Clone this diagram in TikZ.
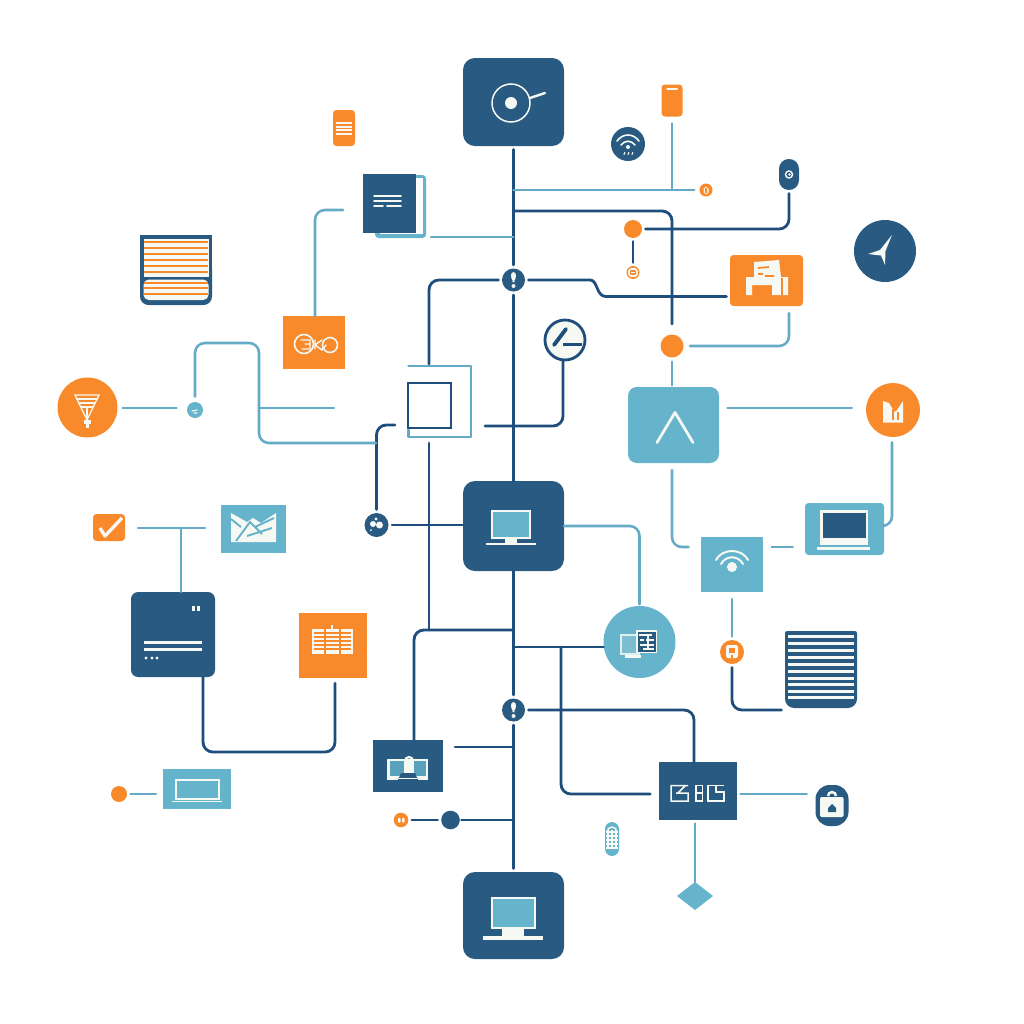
\documentclass[tikz,border=0pt]{standalone}
\usetikzlibrary{shapes.geometric}
\definecolor{navy}{HTML}{285A82}
\definecolor{navyln}{HTML}{1F4E7C}
\definecolor{teal2}{HTML}{66B3CC}
\definecolor{tealln}{HTML}{65ABC5}
\definecolor{orng}{HTML}{F98A2B}
\definecolor{cream}{HTML}{F6F8F3}
\tikzset{
  x=0.01cm,y=-0.01cm,
  wh/.style 2 args={minimum width=#1*0.01cm,minimum height=#2*0.01cm,inner sep=0pt,outer sep=0pt},
  boxn/.style={rectangle,fill=navy},
  boxt/.style={rectangle,fill=teal2},
  boxo/.style={rectangle,fill=orng},
  rbox/.style={rounded corners=3.4pt},
  rs/.style={rounded corners=1pt},
  dot/.style={circle,minimum size=2*#1*0.01cm,inner sep=0pt,outer sep=0pt},
  nl/.style={draw=navyln,line width=0.8pt,line cap=round},
  tl/.style={draw=tealln,line width=0.72pt,line cap=round},
  rc/.style={rounded corners=2.8pt},
  gap/.style={shorten <=1pt,shorten >=1pt},
  wl/.style={draw=cream,line width=#1*0.2845pt,line cap=round},
  wl/.default=2,
}
\begin{document}
\begin{tikzpicture}
\fill[white] (0,0) rectangle (1024,1024);
\useasboundingbox (0,0) rectangle (1024,1024);

% ---------- main nodes
\node[boxn,rbox,wh={101}{88}] (top) at (513.5,102) {};
\node[boxn,rbox,wh={101}{90}] (mid) at (513.5,526) {};
\node[boxn,rbox,wh={101}{87}] (bot) at (513.5,915.5) {};
\node[boxo,rs,wh={21}{32}] (phoneR) at (672,100.5) {};
\node[boxo,rs,wh={22}{36}] (phoneL) at (344,128) {};
\node[dot=17,fill=navy] (wifiC) at (628,144) {};
\node[dot=6.5,fill=orng] (o706) at (706,190) {};
\node[boxn,rounded corners=2.8pt,wh={20}{31}] (pill) at (789,174.5) {};
\node[dot=9,fill=orng] (o632) at (633,229) {};
\node[dot=6.5,fill=orng] (o633) at (633,272.5) {};
\node[dot=31,fill=navy] (compass) at (885,251) {};
\node[boxo,rs,wh={73}{51}] (printer) at (766.5,280.5) {};
\node[dot=11.5,fill=orng] (o671) at (672,346) {};
\node[boxt,rbox,wh={91}{76},rounded corners=2.5pt] (chev) at (673.5,425) {};
\node[dot=27,fill=orng] (obar) at (893,410) {};
\node[boxt,rs,wh={79}{52}] (lapT) at (844.5,529) {};
\node[boxt,wh={62}{55}] (wifiT) at (732,564.5) {};
\node[dot=12,fill=orng] (o732) at (732,652) {};
\node[dot=36,fill=teal2] (tealC) at (639.5,642) {};
\node[boxn,wh={78}{58}] (ebc) at (698,791) {};
\node[boxn,rounded corners=4pt,wh={33}{41}] (lock) at (832,805.5) {};
\node[diamond,aspect=1.3,fill=teal2,wh={36}{28}] (dia) at (695,896) {};
\node[fill=teal2,rounded corners=2pt,wh={14}{34}] (pillT) at (612,839) {};
\node[dot=7.3,fill=orng] (o401) at (401,820) {};
\node[dot=9.3,fill=navy] (n450) at (450.5,820) {};
\node[boxn,wh={70}{52}] (lockbox) at (408,766) {};
\node[dot=11.5,fill=navy] (nB) at (513.5,710) {};
\node[dot=11.5,fill=navy] (nA) at (513.5,280) {};
\node[boxo,wh={68}{65}] (table) at (333,645.5) {};
\node[boxn,rounded corners=2pt,wh={84}{85}] (term) at (173,634.5) {};
\node[boxt,wh={65}{48}] (mail) at (253.5,528.5) {};
\node[boxo,rs,wh={32}{27}] (check) at (109,527.5) {};
\node[dot=12,fill=navy] (n377) at (376.5,525) {};
\node[dot=8,fill=teal2] (t195) at (195,410) {};
\node[dot=30,fill=orng] (funnel) at (87.5,407.5) {};
\node[boxt,wh={68}{40}] (lapS) at (197,789) {};
\node[dot=8,fill=orng] (o119) at (119,794) {};
\node[boxo,wh={62}{53}] (loops) at (314,342.5) {};
\node[dot=20,fill=cream,draw=navyln,line width=0.8pt] (pen) at (565,340) {};

% ---------- striped blocks
\node[wh={72}{70}] (stripeO) at (176,270) {};
\fill[navy,rounded corners=2.4pt] (140,260) -- (140,305) -- (212,305) -- (212,260) -- cycle;
\fill[navy] (140,235) rectangle (212,270);
\fill[cream] (143.5,239) rectangle (208.5,276.5);
\fill[cream,rounded corners=1.5pt] (143.5,279.5) -- (143.5,300) -- (208.5,300) -- (208.5,279.5) -- cycle;
\foreach \y in {242,248,254,260,266,272,283,288,294}
  \draw[orng,line width=0.8pt] (144,\y) -- (208,\y);
\node[wh={72}{77}] (stripeN) at (821,669.5) {};
\fill[navy,rounded corners=2.6pt] (785,670) -- (785,708) -- (857,708) -- (857,670) -- cycle;
\fill[navy,rounded corners=.6pt] (785,631) -- (857,631) -- (857,680) -- (785,680) -- cycle;
\foreach \y in {636,643,650,657,664,671,678,684.5,691,697.5}
  \draw[cream,line width=0.85pt] (788,\y) -- (854,\y);

% ---------- doc with back sheet
\node[boxt,rs,wh={51}{63}] (docB) at (400.5,206.5) {};
\fill[white] (380,178) rectangle (423,233.5);
\node[boxn,wh={53}{59}] (doc) at (389.5,203.5) {};
\foreach \y in {196,201} \draw[wl=1.7] (374,\y) -- (401,\y);
\draw[wl=1.7] (374,206) -- (383,206) (387,206) -- (401,206);

% ---------- outline box
\node[wh={64}{72}] (frameT) at (440,401) {};
\draw[tealln,line width=0.85pt,line cap=round,line join=round] (408.5,366) -- (471,366) -- (471,437) -- (408.5,437) -- (408.5,430);
\node[draw=navyln,line width=0.7pt,wh={43}{45}] (frameN) at (429.5,405.5) {};

% ---------- icons
% disc
\draw[wl=1.5] (511,103) circle (19);
\fill[cream] (511,103) circle (6);
\draw[wl=2.5] (530,98) -- (545,93);
% phone bars
\draw[wl=2] (667,88.5) -- (677,88.5);
\foreach \y in {123,127,130,134} \draw[cream,line width=0.35pt] (336,\y) -- (352,\y);
% wifi circle
\draw[wl=1.6] (617,141) .. controls (623,133) and (633,133) .. (639,141);
\draw[wl=1.6] (621,145) .. controls (625,140) and (631,140) .. (635,145);
\fill[cream] (628,147) circle (2);
\foreach \x in {624,628,632} \draw[wl=1.1] (\x,154.5) -- (\x+.8,152.5);
% pill
\draw[cream,line width=0.4pt] (789,174.5) circle (3.5);
\fill[cream] (789.5,174.5) circle (1.3);
% small oranges
\fill[cream,rounded corners=.5pt] (703.5,187) rectangle (708.5,194);
\draw[orng,line width=0.3pt] (706,188) -- (706,193);
\draw[cream,line width=0.5pt,rounded corners=.7pt] (629,269) rectangle (637,276);
\draw[cream,line width=0.4pt] (631,272.5) -- (635,272.5);
% compass
\fill[cream] (892,235) -- (880,250) -- (868,254) -- (881,255.5) -- (885,265) -- (885.5,251) -- cycle;
% printer
\fill[cream] (754,262) -- (779,260) -- (781,277) -- (754,277) -- cycle;
\fill[cream] (746,277) -- (788,277) -- (788,295) -- (772,295) -- (772,285) -- (752,285) -- (752,295) -- (746,295) -- cycle;
\draw[orng,line width=0.5pt] (758,268) -- (769,267) (758,274) -- (763,274) (765,276) -- (774,276) (782,278) -- (782,295);
% chevron
\draw[wl=2.8,line join=round] (657,442.5) -- (675,412.5) -- (693,442.5);
% bar icon
\fill[cream] (883,401) -- (889,403) -- (892,408) -- (895,412) -- (897,410) -- (903,401) -- (903,422.5) -- (883,422.5) -- cycle;
\draw[orng,line width=0.5pt] (893,409) -- (893,420) (898,412) -- (898,420);
% teal laptop
\fill[cream] (820,510) rectangle (868,545);
\fill[navy] (823,513) rectangle (866,538);
\fill[cream] (817,547) rectangle (870,549.5);
% teal wifi
\draw[wl=2] (716,560) .. controls (722,548) and (742,548) .. (748,560);
\draw[wl=2] (721,564) .. controls (726,555) and (738,555) .. (743,564);
\fill[cream] (732,567) circle (5);
% center laptop
\fill[cream] (491,510) rectangle (531,539);
\fill[teal2] (493,512) rectangle (529,537);
\fill[cream] (486,542.5) rectangle (536,544.5);
\fill[cream] (505,539) rectangle (517,542.5);
% bottom monitor
\fill[cream] (491,897) rectangle (536,929);
\fill[teal2] (493,899) rectangle (534,927);
\fill[cream] (502,929) rectangle (524,936);
\fill[cream] (483,935.5) rectangle (543,939.5);
% teal circle icon
\fill[cream!85!teal2] (620,634) rectangle (640,655);
\fill[teal2!85!cream] (622,636) rectangle (638,653);
\fill[cream] (625,655) rectangle (641,658);
\fill[cream] (636,630) rectangle (657,653);
\fill[navy] (637.5,631.5) rectangle (655.5,651.5);
\draw[cream,line width=0.35pt] (639,635) -- (652,635) (640,640) -- (644,640) (646,640) -- (654,640) (640,645) -- (654,645) (643,649) -- (654,649) (648,636) -- (648,650);
% orange small figure
\fill[cream,rounded corners=.6pt] (726,645) rectangle (738,658);
\fill[orng] (729,647.5) rectangle (735,653);
\fill[orng] (731,655) rectangle (733,658);
% lock
\fill[cream,rounded corners=.4pt] (820,797) rectangle (843.5,817);
\draw[cream,line width=0.7pt] (828,796) arc[start angle=180,end angle=360,radius=4];
\fill[navy] (832,804) -- (836,808) -- (836,812) -- (828,812) -- (828,808) -- cycle;
% ebc glyphs
\draw[wl=1.5,line join=miter,line cap=butt] (688,785.5) -- (671,785.5) -- (671,801) -- (688,801) -- (688,793) -- (676,793) (678,793) -- (685,786);
\draw[wl=1.5,line cap=butt] (696,785.5) rectangle (702.5,801) (696,793) -- (702.5,793);
\draw[wl=1.5,line cap=butt] (716,785.5) -- (708,785.5) -- (708,801) -- (724,801) -- (724,792) -- (716,792) -- (716,785.5) -- (724,785.5);
% lockbox
\fill[cream] (387,759) rectangle (428,780);
\fill[teal2!80!navy] (390,761) rectangle (404,776);
\fill[teal2!80!navy] (414,761) rectangle (426,776);
\fill[cream] (405,761) rectangle (413,771);
\draw[cream,line width=0.6pt] (405,761) arc[start angle=180,end angle=360,radius=4];
\fill[navy] (401,773) -- (415,773) -- (418,780) -- (398,780) -- cycle;
\fill[cream] (399,777.5) rectangle (417,778.5);
% small circles marks
\fill[cream,rounded corners=.4pt] (398,817.5) rectangle (400.5,823);
\fill[cream,rounded corners=.4pt] (402,817.5) rectangle (404.5,823);
% exclamation blobs
\foreach \xx/\yy in {513.5/280,513.5/710}{
  \fill[cream,rounded corners=1pt] (\xx-3,\yy-8) -- (\xx+3,\yy-8) -- (\xx+1.5,\yy+2) -- (\xx-1.5,\yy+2) -- cycle;
  \fill[cream] (\xx,\yy+6) circle (2);
}
% table
\fill[cream] (312,629) rectangle (353,654);
\foreach \y in {633,637,641,645,649} \draw[orng,line width=0.5pt] (314,\y) -- (351,\y);
\draw[orng,line width=0.4pt] (325,629) -- (325,654) (340,629) -- (340,654);
\draw[cream,line width=0.3pt] (332,625) -- (332,632);
% terminal
\draw[wl=3,line cap=butt] (144,642) -- (202,642) (144,649.5) -- (202,649.5);
\foreach \x in {146,152,157} \fill[cream] (\x,658) circle (1.7);
\foreach \x in {193.5,198.5} \fill[cream] (\x-1.5,606) rectangle (\x+1.5,611);
% mail
\fill[cream] (231,513) -- (247,522) -- (253,518) -- (261,523) -- (276,513) -- (276,542) -- (231,542) -- cycle;
\draw[teal2,line width=0.55pt] (231,519) -- (241,527) (236,541) -- (250,522) -- (262,534) (247,536) -- (272,528) (274,518) -- (255,527);
% check
\draw[cream,line width=0.95pt,line join=round] (100,528) -- (105,536) -- (122,518);
% n377 splash
\fill[cream] (373,524) circle (3);
\fill[cream] (379.5,525) circle (3.5);
\fill[cream] (376,519) circle (1.6);
\fill[cream] (371,530) circle (1);
% t195
\draw[wl=1.2] (192,411) -- (197,410) (194,413) -- (197,413);
% funnel
\draw[wl=1.3,line join=miter] (75,395) -- (99,395) -- (88,418) -- (86,418) -- cycle;
\foreach \y/\w in {399/10,403/8,407/6} \draw[wl=1.1] (87-\w,\y) -- (87+\w,\y);
\draw[wl=1.1] (87,408) -- (87,423);
\fill[cream] (84,420) rectangle (91,424);
\fill[cream] (86,424) rectangle (89,428);
% lapS
\fill[cream] (175,779) rectangle (220,800);
\fill[teal2] (177,781) rectangle (218,798);
\fill[cream] (172,800.5) rectangle (222,802);
% loops
\draw[wl=1.6] (304,344) circle (9.5);
\draw[wl=1.6] (330,345) circle (7.5);
\draw[wl=1.4] (301,340) -- (310,340) -- (310,349) -- (302,349) (305,344) -- (310,344) (315,340) -- (315,349) (315,345) -- (322,340) (315,345) -- (322,350) -- (326,345);
% pen
\draw[navyln,line width=1.1pt,line cap=round] (554,345) -- (566,329);
\draw[navyln,line width=0.6pt] (563,344.5) -- (582,344.5);
% pillT grid
\foreach \y in {832,836,840,844,848} \draw[cream,line width=0.3pt] (606,\y) -- (618,\y);
\foreach \x in {608,612,616} \draw[cream,line width=0.3pt] (\x,830) -- (\x,849);
\draw[cream,line width=0.4pt] (607,832) arc[start angle=180,end angle=360,radius=5];

% ---------- coordinates
\coordinate (j190) at (513.5,190);
\coordinate (j211) at (513.5,211);
\coordinate (j237) at (513.5,237);
\coordinate (jdoc) at (431,237);
\coordinate (j647) at (513.5,647);
\coordinate (j630) at (513.5,630);
\coordinate (j747) at (513.5,747);
\coordinate (j820) at (513.5,820);
\coordinate (k672) at (672,190);
\coordinate (k561) at (561,647);
\coordinate (k429) at (429,630);
\coordinate (k181) at (181,528);
\coordinate (k259) at (259,408);
\coordinate (a343) at (343,210);
\coordinate (a334) at (334,408);
\coordinate (a376) at (376,443);
\coordinate (a138) at (138,528);
\coordinate (a205) at (205,528);
\coordinate (a395) at (395,425);
\coordinate (a485) at (485,426);
\coordinate (a455) at (455,747);
\coordinate (a429t) at (429,364);
\coordinate (a429b) at (429,443);

% ---------- connectors
\draw[nl,gap] (top.south) -- (nA.north);
\draw[nl,shorten <=1pt] (nA.south) -- (mid.north);
\draw[nl,shorten >=1pt] (mid.south) -- (nB.north);
\draw[nl,gap] (nB.south) -- (bot.north);
\draw[tl,shorten >=1.5pt] (j190) -- (o706.west);
\draw[tl,shorten <=2pt] (phoneR.south) -- (k672);
\draw[nl,rc,shorten >=3pt] (j211) -| (o671.north);
\draw[nl,rc,shorten <=1pt,shorten >=1pt] (o632.east) -| (pill.south);
\draw[nl,gap] (o632.south) -- (o633.north);
\draw[tl] (jdoc) -- (j237);
\draw[nl,rc,shorten <=1pt] (nA.west) -| (a429t);
\draw[nl,shorten <=1pt,shorten >=1pt] (nA.east) -- (590,280) .. controls (598,280) and (596,296.5) .. (606,296.5) -- (printer.west |- 0,296.5);
\draw[tl,rc,shorten <=1.8pt,shorten >=2pt] (o671.east) -| (printer.south -| 789,0);
\draw[tl,shorten <=1.2pt,shorten >=.5pt] (o671.south) -- (chev.north -| 672,0);
\draw[tl,shorten <=2.4pt,shorten >=4pt] (chev.east |- 0,408) -- (obar.west |- 0,408);
\draw[tl,rc,shorten <=1.5pt] (obar.south -| 892,0) -- (892,526) -- (lapT.east |- 0,526);
\draw[tl,rc,shorten <=2pt,shorten >=3.5pt] (chev.south -| 672,0) -- (672,547) -- (wifiT.west |- 0,547);
\draw[tl,shorten <=2.5pt,shorten >=3.5pt] (wifiT.east |- 0,547) -- (lapT.west |- 0,547);
\draw[tl,shorten <=2pt,shorten >=1pt] (wifiT.south) -- (o732.north);
\draw[nl,rc,shorten <=1pt,shorten >=1pt] (o732.south) |- (stripeN.west |- 0,710);
\draw[tl,rc,shorten >=.5pt] (mid.east) -| (tealC.north);
\draw[nl] (j647) -- (tealC.west |- 0,647);
\draw[nl,rc,shorten >=2.5pt] (k561) |- (ebc.west |- 0,794);
\draw[nl,rc,shorten <=1pt] (nB.east) -| (ebc.north -| 694,0);
\draw[tl,shorten <=1pt] (ebc.south -| 695,0) -- (dia.north);
\draw[tl,shorten <=1pt,shorten >=2.5pt] (ebc.east |- 0,794) -- (lock.west |- 0,794);
\draw[nl,rc] (j630) -| (lockbox.north -| 414,0);
\draw[nl] (a429b) -- (k429);
\draw[nl] (a455) -- (j747);
\draw[nl,shorten >=.5pt] (j820) -- (n450.east);
\draw[nl,gap] (n450.west) -- (o401.east);
\draw[nl,rc] (a485) -- (563,426) -- (pen.south -| 563,0);
\draw[nl,rc,shorten >=1pt] (a395) -- (376.5,425) -- (n377.north);
\draw[nl,shorten <=1pt] (n377.east) -- (mid.west |- 0,525);
\draw[tl,rc,shorten <=1.5pt] (t195.north) -- (195,343) -- (259,343) -- (259,443) -- (a376);
\draw[tl] (k259) -- (a334);
\draw[tl,shorten <=1.5pt,shorten >=3pt] (funnel.east |- 0,408) -- (t195.west |- 0,408);
\draw[tl] (a138) -- (a205);
\draw[tl] (k181) -- (term.north -| k181);
\draw[nl,rc,shorten >=1.5pt] (term.south -| 203,0) -- (203,752) -- (335,752) -- (table.south -| 335,0);
\draw[tl,shorten <=1pt,shorten >=2pt] (o119.east) -- (lapS.west |- 0,794);
\draw[tl,rc] (loops.north -| 315,0) -- (315,210) -- (a343);
\end{tikzpicture}
\end{document}
